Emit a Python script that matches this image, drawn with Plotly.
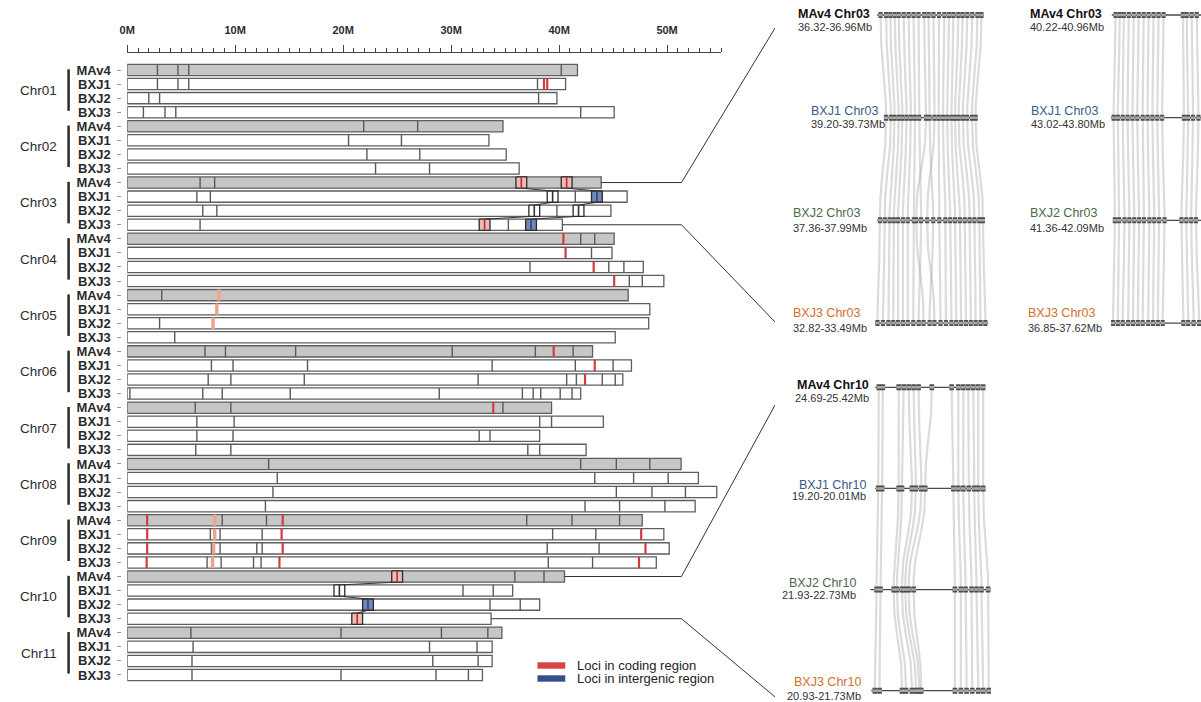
import numpy as np
import plotly.graph_objects as go

W, H = 1201, 702

# ---------------- data: left panel ----------------
chromosomes = [f"Chr{i:02d}" for i in range(1, 12)]
genomes = ["MAv4", "BXJ1", "BXJ2", "BXJ3"]

len_MAv4 = [41.7, 34.8, 43.9, 45.1, 46.4, 43.1, 39.3, 51.3, 47.7, 40.5, 34.7]
len_BXJ1 = [40.6, 33.5, 46.3, 44.9, 48.4, 46.7, 44.1, 52.9, 49.7, 35.7, 33.8]
len_BXJ2 = [39.8, 35.1, 44.8, 47.8, 48.3, 45.9, 38.2, 54.6, 50.2, 38.2, 33.8]
len_BXJ3 = [45.1, 36.3, 40.3, 49.7, 45.2, 42.0, 42.5, 52.6, 49.0, 33.7, 32.9]

bnd_MAv4 = [[2.8, 4.7, 5.7, 40.2], [21.9, 26.9], [6.75, 8.1], [42.0, 43.3], [3.2],
            [7.2, 9.1, 15.6, 30.1, 37.8, 41.3], [6.3, 9.6, 34.8], [13.1, 42.0, 45.3, 48.4],
            [8.8, 12.9, 37.0, 41.2, 45.6], [35.9, 38.6], [5.9, 19.8, 29.1, 33.4]]
bnd_BXJ1 = [[2.8, 4.7, 5.7, 38.0], [20.5, 25.4], [6.45, 7.7, 41.5], [43.0], [],
            [7.8, 9.8, 16.7, 33.8, 41.5, 45.0], [6.45, 9.9, 38.2, 39.3], [13.9, 43.3, 46.9, 50.1],
            [7.7, 8.6, 12.5, 39.4, 43.4], [31.1, 33.9], [6.1, 28.0, 32.4]]
bnd_BXJ2 = [[2.0, 3.0, 38.1], [22.2, 27.1], [7.0, 8.3, 39.8], [37.3, 44.6, 46.0], [3.0],
            [7.5, 9.6, 16.4, 32.5, 40.7, 41.6, 44.0, 45.2], [6.45, 9.8, 32.6, 33.6],
            [13.5, 45.3, 48.6, 51.7], [7.8, 8.6, 12.0, 12.5, 38.9, 43.7], [33.6, 36.4],
            [6.0, 28.3, 32.5]]
bnd_BXJ3 = [[1.5, 3.5, 4.5, 42.0], [23.0, 28.0], [6.75, 35.3], [46.5, 47.7], [4.4],
            [0.25, 7.0, 8.8, 15.1, 28.9, 36.6, 37.6, 38.3, 40.1, 41.2], [6.35, 9.6, 37.1, 38.2],
            [12.8, 42.4, 45.6, 49.8], [7.4, 8.7, 11.7, 12.4, 39.0, 43.1], [],
            [6.0, 19.8, 28.6, 31.6]]

red_MAv4 = [[], [], [], [40.4], [], [39.5], [33.9], [], [1.85, 14.4], [], []]
red_BXJ1 = [[38.6, 38.9], [], [], [40.6], [], [43.3], [], [], [1.85, 14.3, 47.6], [], []]
red_BXJ2 = [[], [], [], [43.2], [], [42.4], [], [], [1.85, 14.4, 48.0], [], []]
red_BXJ3 = [[], [], [], [45.1], [], [], [], [], [1.8, 14.1, 47.4], [], []]

pale_MAv4 = [[], [], [], [], [8.5], [], [], [], [8.1], [], []]
pale_BXJ1 = [[], [], [], [], [8.3], [], [], [], [8.1], [], []]
pale_BXJ2 = [[], [], [], [], [7.95], [], [], [], [8.0], [], []]
pale_BXJ3 = [[], [], [], [], [], [], [], [], [7.9], [], []]

# boxed loci groups (MAv4, BXJ1, BXJ2, BXJ3)
box_groups_chr = [2, 2, 9]
boxA_pos = [36.5, 39.4, 37.7, 33.1]
boxA_kind = ["coding", "plain", "plain", "coding"]
boxB_pos = [40.7, 43.5, 41.8, 37.4]
boxB_kind = ["coding", "intergenic", "plain", "intergenic"]
boxC_pos = [25.0, 19.65, 22.3, 21.3]
boxC_kind = ["coding", "plain", "intergenic", "coding"]

ruler_ticks = [0, 10, 20, 30, 40, 50]
ruler_labels = ["0M", "10M", "20M", "30M", "40M", "50M"]

# ---------------- data: synteny panels ----------------
panelA_names = ["MAv4 Chr03", "BXJ1 Chr03", "BXJ2 Chr03", "BXJ3 Chr03"]
panelA_ranges = ["36.32-36.96Mb", "39.20-39.73Mb", "37.36-37.99Mb", "32.82-33.49Mb"]
panelB_names = ["MAv4 Chr03", "BXJ1 Chr03", "BXJ2 Chr03", "BXJ3 Chr03"]
panelB_ranges = ["40.22-40.96Mb", "43.02-43.80Mb", "41.36-42.09Mb", "36.85-37.62Mb"]
panelC_names = ["MAv4 Chr10", "BXJ1 Chr10", "BXJ2 Chr10", "BXJ3 Chr10"]
panelC_ranges = ["24.69-25.42Mb", "19.20-20.01Mb", "21.93-22.73Mb", "20.93-21.73Mb"]

A_track_start = [5.7, 12.0, 5.7, 3.9]
A_track_end = [93.4, 88.0, 94.8, 97.3]
A_MAv4 = [8.5, 13.1, 16.6, 20.2, 23.5, 27.6, 31.7, 35.8, 39.9, 44.5, 48.1, 52.2, 56.8, 61.2, 65.0, 68.6, 72.7, 76.2, 80.1, 84.2, 88.5, 91.8]
A_BXJ1 = [13, 17, 20, 23.5, 26.5, 30, 33.5, 37, 40.5, 46, 49, 53, 56.5, 60, 63.5, 67, 70, 73, 76.5, 80, 84, 87]
A_BXJ2 = [8, 12, 16, 19.5, 23, 27, 31, 36, 42, 38, 52, 47, 57, 62, 66, 70, 74, 78, 82, 86, 90, 93]
A_BXJ3 = [6, 10.5, 15, 19, 23, 27, 31, 35.5, 40, 44, 49, 53, 58, 62.5, 67, 71, 75, 79, 83, 87, 91, 95]

B_track_start = [1.0, 0.0, 2.5, 1.4]
B_track_end = [95, 95, 95, 95]
B_MAv4 = [4.1, 7.6, 10.9, 15.0, 19.1, 23.2, 27.3, 31.4, 35.5, 39.6, 43.7, 59.6, 62.8, 66.9, 71.1]
B_BXJ1 = [2.5, 6.0, 10.0, 14.0, 18.0, 22.0, 26.5, 30.5, 34.5, 38.5, 42.5, 60.5, 64.0, 68.0, 72.5]
B_BXJ2 = [3.5, 7.0, 11.5, 15.5, 19.5, 23.5, 27.5, 32.0, 36.0, 40.0, 44.5, 58.5, 62.5, 66.5, 70.5]
B_BXJ3 = [2.0, 6.0, 10.0, 14.5, 18.5, 22.5, 26.5, 31.0, 35.0, 39.0, 43.0, 60.0, 64.0, 68.5, 73.0]

C_track_start = [4.1, 4.1, 0.0, 0.8]
C_track_end = [94.0, 94.0, 99.0, 98.4]
C_MAv4 = [7.1, 10.4, 23.5, 27.6, 31.7, 35.8, 39.9, 50.8, 67.2, 72.7, 76.8, 80.9, 85.0, 89.1, 93.2]
C_BXJ1 = [6.6, 9.8, 23.5, 26.2, 34.4, 37.7, 42.1, 45.4, 68.6, 72.7, 76.8, 81.4, 85.8, 89.1, 93.2]
C_BXJ2 = [5.2, 8.5, 19.4, 22.1, 26.2, 28.9, 31.7, 35.8, 69.9, 74.8, 78.7, 83.6, 87.7, 91.8, 97.3]
C_BXJ3 = [3.8, 7.7, 26.2, 29.5, 34.4, 37.7, 40.4, 42.1, 69.9, 74.8, 79.5, 84.2, 89.1, 93.2, 97.8]

# ---------------- styling ----------------
NARROW = "Liberation Sans Narrow, Arial Narrow, Liberation Sans, Arial, sans-serif"
SANS = "Liberation Sans, Arial, sans-serif"
TXT = "#2b2b2b"
BAR_H = 0.4  # half height in row units

fig = go.Figure()

lengths = [len_MAv4, len_BXJ1, len_BXJ2, len_BXJ3]
bounds = [bnd_MAv4, bnd_BXJ1, bnd_BXJ2, bnd_BXJ3]
reds = [red_MAv4, red_BXJ1, red_BXJ2, red_BXJ3]
pales = [pale_MAv4, pale_BXJ1, pale_BXJ2, pale_BXJ3]


def row(c, g):
    return 4 * c + g


# bars
for g, name in enumerate(genomes):
    fig.add_trace(go.Bar(
        orientation="h", base=0, x=lengths[g],
        y=[row(c, g) for c in range(len(chromosomes))],
        width=0.8,
        marker=dict(color="#c6c6c6" if g == 0 else "#ffffff",
                    line=dict(color="#5e5e5e", width=1.3)),
        xaxis="x", yaxis="y", showlegend=False, hoverinfo="skip"))


def seg_trace(poslists, color, width):
    xs, ys = [], []
    for g, pl in enumerate(poslists):
        for c, lst in enumerate(pl):
            for p in lst:
                r = row(c, g)
                xs += [p, p, None]
                ys += [r - BAR_H, r + BAR_H, None]
    return go.Scatter(x=xs, y=ys, mode="lines", line=dict(color=color, width=width),
                      xaxis="x", yaxis="y", showlegend=False, hoverinfo="skip")


fig.add_trace(seg_trace(bounds, "#5a5a5a", 1.4))
fig.add_trace(seg_trace(pales, "#f0a48c", 3.5))
fig.add_trace(seg_trace(reds, "#d23c3c", 2.2))

# boxed loci and their connectors
box_fill = {"coding": "#e9bcbc", "intergenic": "#7288b4", "plain": "#ffffff"}
box_mid = {"coding": "#c82828", "intergenic": "#2c4680", "plain": "#333333"}
hw = 0.5
for c, bpos, bkind in zip(box_groups_chr, [boxA_pos, boxB_pos, boxC_pos],
                          [boxA_kind, boxB_kind, boxC_kind]):
    cx, cy = [], []
    for g in range(3):
        cx += [bpos[g], bpos[g + 1], None]
        cy += [row(c, g) + BAR_H, row(c, g + 1) - BAR_H, None]
    fig.add_trace(go.Scatter(x=cx, y=cy, mode="lines", line=dict(color="#333333", width=1),
                             xaxis="x", yaxis="y", showlegend=False, hoverinfo="skip"))
    for g in range(4):
        p, r = bpos[g], row(c, g)
        fig.add_trace(go.Scatter(
            x=[p - hw, p + hw, p + hw, p - hw, p - hw],
            y=[r - BAR_H, r - BAR_H, r + BAR_H, r + BAR_H, r - BAR_H],
            mode="lines", fill="toself", fillcolor=box_fill[bkind[g]],
            line=dict(color="#2a2a2a", width=1.3),
            xaxis="x", yaxis="y", showlegend=False, hoverinfo="skip"))
        fig.add_trace(go.Scatter(
            x=[p, p], y=[r - BAR_H, r + BAR_H], mode="lines",
            line=dict(color=box_mid[bkind[g]], width=1.6),
            xaxis="x", yaxis="y", showlegend=False, hoverinfo="skip"))

# connectors from the left panel to the zoom panels (x: Mb, y: rows)
ELBOW = 51.33
XEND = 60.0
conn = [
    (len_MAv4[2], row(2, 0), -2.985),
    (len_BXJ3[2], row(2, 3), 17.91),
    (len_MAv4[9], row(9, 0), 23.81),
    (len_BXJ3[9], row(9, 3), 44.56),
]
for x0, r0, yend in conn:
    fig.add_trace(go.Scatter(x=[x0, ELBOW, XEND], y=[r0, r0, yend], mode="lines",
                             line=dict(color="#333333", width=1),
                             xaxis="x", yaxis="y", showlegend=False, hoverinfo="skip"))

# dummy trace for ruler axis
fig.add_trace(go.Scatter(x=[0, 55], y=[-20, -20], mode="markers", marker=dict(opacity=0),
                         xaxis="x2", yaxis="y", showlegend=False, hoverinfo="skip"))


# ---------------- synteny panels ----------------
def bezier(a, b, k):
    t = np.linspace(0, 1, 30)
    x = (1 - t) ** 3 * a + 3 * (1 - t) ** 2 * t * a + 3 * (1 - t) * t ** 2 * b + t ** 3 * b
    y = (1 - t) ** 3 * k + 3 * (1 - t) ** 2 * t * (k + 0.5) + 3 * (1 - t) * t ** 2 * (k + 0.5) + t ** 3 * (k + 1)
    return list(x), list(y)


def add_panel(xa, ya, tracks, tstart, tend, gene_hw):
    lx, ly = [], []
    for k in range(3):
        for a, b in zip(tracks[k], tracks[k + 1]):
            x, y = bezier(a, b, k)
            lx += x + [None]
            ly += y + [None]
    fig.add_trace(go.Scatter(x=lx, y=ly, mode="lines",
                             line=dict(color="rgba(175,175,175,0.45)", width=2.2),
                             xaxis=xa, yaxis=ya, showlegend=False, hoverinfo="skip"))
    tx, ty = [], []
    for k in range(4):
        tx += [tstart[k], tend[k], None]
        ty += [k, k, None]
    fig.add_trace(go.Scatter(x=tx, y=ty, mode="lines", line=dict(color="#4a4a4a", width=1.3),
                             xaxis=xa, yaxis=ya, showlegend=False, hoverinfo="skip"))
    gx, gy = [], []
    for k in range(4):
        for p in tracks[k]:
            gx += [p - gene_hw, p + gene_hw, None]
            gy += [k, k, None]
    fig.add_trace(go.Scatter(x=gx, y=gy, mode="lines", line=dict(color="#4d4d4d", width=6),
                             xaxis=xa, yaxis=ya, showlegend=False, hoverinfo="skip"))
    fig.add_trace(go.Scatter(x=gx, y=gy, mode="lines", line=dict(color="#a8a8a8", width=2.5),
                             xaxis=xa, yaxis=ya, showlegend=False, hoverinfo="skip"))


add_panel("x3", "y3", [A_MAv4, A_BXJ1, A_BXJ2, A_BXJ3], A_track_start, A_track_end, 1.7)
add_panel("x4", "y4", [B_MAv4, B_BXJ1, B_BXJ2, B_BXJ3], B_track_start, B_track_end, 1.7)
add_panel("x5", "y5", [C_MAv4, C_BXJ1, C_BXJ2, C_BXJ3], C_track_start, C_track_end, 1.9)

name_colors = ["#111111", "#3b5b86", "#4b6a4b", "#d0702e"]
annotations = []


def panel_labels(yref, names, ranges, xpx, anchor, name_shift, range_shift):
    for k in range(4):
        annotations.append(dict(
            x=xpx[k] / W, xref="paper", y=k, yref=yref, yshift=name_shift[k],
            text=f"<b>{names[k]}</b>" if k == 0 else names[k], showarrow=False,
            xanchor=anchor, yanchor="middle",
            font=dict(family=SANS, size=12.5, color=name_colors[k])))
        annotations.append(dict(
            x=xpx[k] / W, xref="paper", y=k, yref=yref, yshift=range_shift[k],
            text=ranges[k], showarrow=False, xanchor=anchor, yanchor="middle",
            font=dict(family=NARROW, size=11, color="#333333")))


panel_labels("y3", panelA_names, panelA_ranges, [793, 806, 788, 788], "left",
             [1, 7, 7, 10], [-12, -6, -8, -5])
panel_labels("y4", panelB_names, panelB_ranges, [1027, 1028, 1027, 1025], "left",
             [1, 7, 7, 10], [-12, -6, -8, -5])
panel_labels("y5", panelC_names, panelC_ranges, [869, 866, 856, 861], "right",
             [2, 3, 7, 9], [-11, -8, -5, -5])

# chromosome labels and brackets
shapes = []
for c, ch in enumerate(chromosomes):
    annotations.append(dict(x=31 / W, xref="paper", y=4 * c + 1.45, yref="y", text=ch,
                            showarrow=False, xanchor="center", yanchor="middle",
                            font=dict(family=SANS, size=13.5, color=TXT)))
    shapes.append(dict(type="line", xref="paper", yref="y", x0=61 / W, x1=61 / W,
                       y0=4 * c - 0.05, y1=4 * c + 2.9, line=dict(color="#2b2b2b", width=2.5)))

# legend
legend_items = [("Loci in coding region", "#d64545"), ("Loci in intergenic region", "#34508a")]
for i, (lab, col) in enumerate(legend_items):
    yc = 665.5 + 13 * i
    shapes.append(dict(type="rect", xref="paper", yref="paper", x0=533 / W, x1=561 / W,
                       y0=1 - (yc - 3.2) / H, y1=1 - (yc + 3.2) / H, fillcolor=col,
                       line=dict(width=0)))
    annotations.append(dict(x=571 / W, y=1 - yc / H, xref="paper", yref="paper", text=lab,
                            showarrow=False, xanchor="left", yanchor="middle",
                            font=dict(family=SANS, size=13, color="#222222")))

hidden = dict(visible=False, showgrid=False, zeroline=False, fixedrange=True)
X_END_PX = 120 + 60 * 10.87

fig.update_layout(
    width=W, height=H, margin=dict(l=0, r=0, t=0, b=0),
    paper_bgcolor="white", plot_bgcolor="rgba(0,0,0,0)",
    barmode="overlay", hovermode=False, showlegend=False,
    xaxis=dict(domain=[120 / W, X_END_PX / W], range=[0, 60], anchor="y", **hidden),
    xaxis2=dict(domain=[120 / W, (120 + 55 * 10.87) / W], range=[0, 55], anchor="free",
                position=1 - 52 / H, side="top", showline=True, linecolor="#444444",
                linewidth=1, ticks="outside", ticklen=7, tickwidth=1, tickcolor="#444444",
                tickvals=ruler_ticks, ticktext=ruler_labels, showgrid=False, zeroline=False,
                ticklabelstandoff=7,
                minor=dict(dtick=1, tick0=0, ticks="outside", ticklen=4, tickcolor="#444444",
                           showgrid=False),
                tickfont=dict(family=SANS, size=11, color=TXT, weight="bold"), fixedrange=True),
    yaxis=dict(domain=[0, 1], range=[44.92, -4.975], anchor="free", position=114 / W,
               tickmode="array", tickvals=list(range(44)), ticktext=genomes * 11,
               ticks="outside", ticklen=4, tickcolor="#9a9a9a", showline=False,
               showgrid=False, zeroline=False, ticklabelstandoff=4,
               tickfont=dict(family=NARROW, size=13, color=TXT, weight="bold"),
               fixedrange=True),
    xaxis3=dict(domain=[868 / W, 990 / W], range=[0, 100], anchor="y3", **hidden),
    yaxis3=dict(domain=[1 - 345 / H, 1], range=[3.214, -0.146], anchor="x3", **hidden),
    xaxis4=dict(domain=[1110 / W, 1], range=[0, 74.6], anchor="y4", **hidden),
    yaxis4=dict(domain=[1 - 345 / H, 1], range=[3.214, -0.146], anchor="x4", **hidden),
    xaxis5=dict(domain=[868 / W, 990 / W], range=[0, 100], anchor="y5", **hidden),
    yaxis5=dict(domain=[0, 1 - 360 / H], range=[3.112, -0.27], anchor="x5", **hidden),
    annotations=annotations, shapes=shapes,
)

fig.write_html("out.html", config={"displayModeBar": False},
               post_script="document.body.style.margin='0';")
